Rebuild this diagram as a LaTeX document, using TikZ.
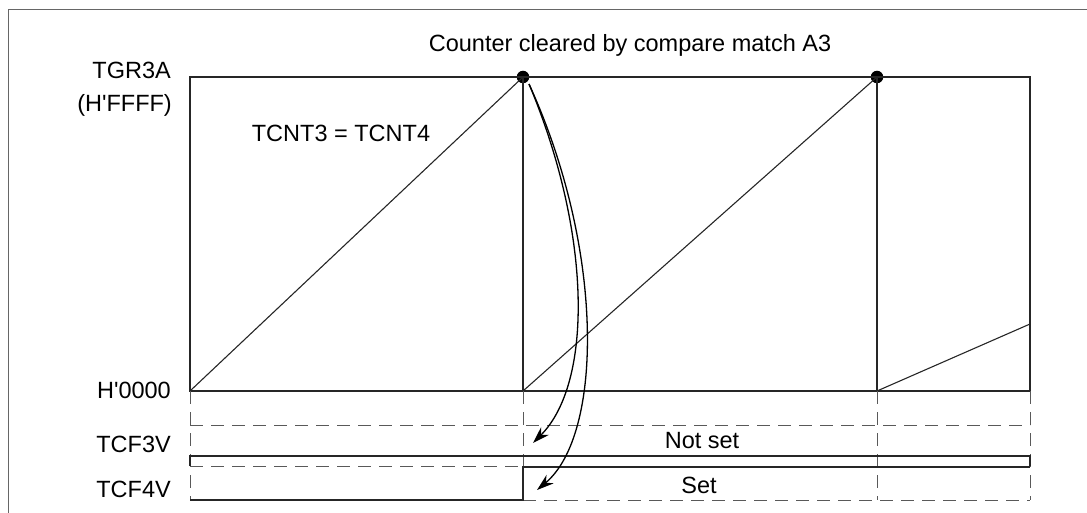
\documentclass[tikz,border=0pt]{standalone}
\usepackage{fontspec}
\setmainfont{Liberation Sans}
\usetikzlibrary{arrows.meta}
\begin{document}
\begin{tikzpicture}[x=1pt,y=-1pt,
  lbl/.style={font=\fontsize{23.5}{26}\selectfont, inner sep=0pt},
  wave/.style={line width=1.1pt, black!85},
  guide/.style={line width=1pt, black!65, dash pattern=on 13pt off 8pt},
  flagarrow/.style={line width=1.3pt, -{Stealth[length=17pt,width=11pt]}},
  dotmark/.style={circle, fill=black, inner sep=0pt, minimum size=12.5pt}]
\useasboundingbox (0,0) rectangle (1087,513);
% outer frame
\draw[line width=1pt, black!60] (8,513) -- (8,10) -- (1087,10);
% named points
\coordinate (bl) at (190,391);
\coordinate (tl) at (190,77);
\coordinate (tr) at (1030,77);
\coordinate (br) at (1030,391);
\coordinate (c1b) at (523,391);
\coordinate (c2b) at (877,391);
\coordinate (rampend) at (1030,324);
\node[dotmark] (m1) at (523,77) {};
\node[dotmark] (m2) at (877,77) {};
\coordinate (a0) at (529,84);
\coordinate (e3) at (533,443);
\coordinate (e4) at (537,490);
% counter frame
\draw[wave] (tl) rectangle (br);
\draw[wave] (m1.center) -- (c1b);
\draw[wave] (m2.center) -- (c2b);
% ramps
\draw[wave] (bl) -- (m1.center);
\draw[wave] (c1b) -- (m2.center);
\draw[wave] (c2b) -- (rampend);
% guide lines
\draw[guide] (190,391) -- (190,500);
\draw[guide] (523,391) -- (523,467);
\draw[guide] (877,391) -- (877,500);
\draw[guide] (1030,391) -- (1030,500);
\draw[guide] (190,425) -- (1030,425);
\draw[guide] (190,466) -- (523,466);
\draw[guide] (523,500) -- (1030,500);
% TCF3V
\draw[wave] (190,466) -- (190,456) -- (1030,456) -- (1030,466);
% TCF4V
\draw[wave] (190,500) -- (523,500) -- (523,467) -- (1030,467);
% arrows
\draw[flagarrow] (a0) .. controls (592,234) and (593,383) .. (e3);
\draw[flagarrow] (a0) .. controls (605,250) and (603,435) .. (e4);
% labels
\node[lbl, anchor=base] (title) at (630,52) {Counter cleared by compare match A3};
\node[lbl, anchor=base east] (tgr) at (171,79) {TGR3A};
\node[lbl, anchor=base east] (hff) at (172,112) {(H\textquotesingle FFFF)};
\node[lbl, anchor=base east] (h00) at (171,398) {H\textquotesingle 0000};
\node[lbl, anchor=base east] (f3) at (171,452) {TCF3V};
\node[lbl, anchor=base east] (f4) at (171,497) {TCF4V};
\node[lbl, anchor=base] (eq) at (341,142) {TCNT3 = TCNT4};
\node[lbl, anchor=base] (ns) at (702,448) {Not set};
\node[lbl, anchor=base] (st) at (699,493) {Set};
\end{tikzpicture}
\end{document}
